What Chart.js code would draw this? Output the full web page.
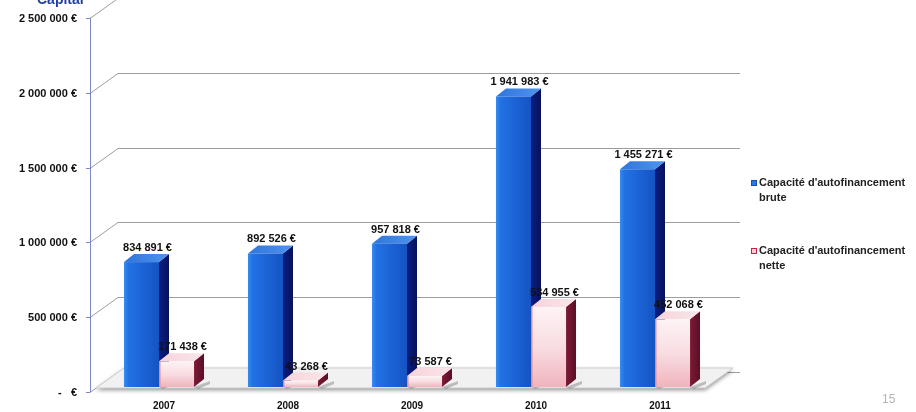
<!DOCTYPE html>
<html>
<head>
<meta charset="utf-8">
<script src="https://cdn.jsdelivr.net/npm/chart.js@4.4.0/dist/chart.umd.min.js"></script>
<style>
  html, body { margin: 0; padding: 0; background: #fff; overflow: hidden; }
  canvas { display: block; }
</style>
</head>
<body>
<canvas id="canvas" width="916" height="412"></canvas>
<script>
var years = ["2007", "2008", "2009", "2010", "2011"];
var cafBrute = [834891, 892526, 957818, 1941983, 1455271];
var cafNette = [171438, 43268, 73587, 534955, 452068];
var seriesNames = ["Capacité d'autofinancement brute", "Capacité d'autofinancement nette"];
var legendLines = [["Capacité d'autofinancement", "brute"], ["Capacité d'autofinancement", "nette"]];
var yTicks = [0, 500000, 1000000, 1500000, 2000000, 2500000];

var FONT = '"Liberation Sans", Arial, sans-serif';
var depthX = 10, depthY = 8;   // extrusion of each bar
var wallX = 28, wallY = 20;    // back wall offset of the gridlines
var lift = 5;                  // bars stand a little behind the axis

function fmtEuro(v) {
  if (v === 0) return "-   €";
  return String(Math.round(v)).replace(/\B(?=(\d{3})+(?!\d))/g, " ") + " €";
}

function poly(ctx, pts) {
  ctx.beginPath();
  ctx.moveTo(pts[0][0], pts[0][1]);
  for (var i = 1; i < pts.length; i++) ctx.lineTo(pts[i][0], pts[i][1]);
  ctx.closePath();
}

function drawBox(ctx, x0, x1, top, base, style) {
  // shadow on the floor
  ctx.fillStyle = "rgba(90,90,90,0.35)";
  poly(ctx, [[x1, base], [x1 + depthX + 6, base - depthY + 2], [x1 + depthX + 6, base - depthY + 5], [x1 + 4, base + 2]]);
  ctx.fill();

  // side
  var gs = ctx.createLinearGradient(x1, 0, x1 + depthX, 0);
  gs.addColorStop(0, style.side[0]);
  gs.addColorStop(1, style.side[1]);
  ctx.fillStyle = gs;
  poly(ctx, [[x1, top], [x1 + depthX, top - depthY], [x1 + depthX, base - depthY], [x1, base]]);
  ctx.fill();

  // top
  var gt = ctx.createLinearGradient(x0, 0, x1 + depthX, 0);
  gt.addColorStop(0, style.top[0]);
  gt.addColorStop(1, style.top[1]);
  ctx.fillStyle = gt;
  poly(ctx, [[x0, top], [x1, top], [x1 + depthX, top - depthY], [x0 + depthX, top - depthY]]);
  ctx.fill();

  // front
  var gf = style.vertical ? ctx.createLinearGradient(0, top, 0, base) : ctx.createLinearGradient(x0, 0, x1, 0);
  style.front.forEach(function (s) { gf.addColorStop(s[0], s[1]); });
  ctx.fillStyle = gf;
  ctx.fillRect(x0, top, x1 - x0, base - top);
  if (style.edge) {
    ctx.fillStyle = style.edge;
    ctx.fillRect(x0, top, 1.5, base - top);
  }
}

var styles = [
  {
    front: [[0, "#3b8cf0"], [0.12, "#2272e4"], [1, "#1553c4"]],
    side: ["#0b1d86", "#071258"],
    top: ["#2f74da", "#4f94ee"]
  },
  {
    vertical: true,
    front: [[0, "#fdf3f5"], [0.5, "#f8dde2"], [1, "#f1b3bd"]],
    side: ["#7d1a36", "#5a0f25"],
    top: ["#f6d3da", "#f9e6ea"],
    edge: "#e88793"
  }
];

var scene3d = {
  id: "scene3d",
  beforeDatasetsDraw: function (chart) {
    var ctx = chart.ctx, a = chart.chartArea, ys = chart.scales.y, xs = chart.scales.x;
    var ax = a.left - 7;
    ctx.save();
    // gridlines folded onto the back wall, tick marks and tick labels
    ctx.lineWidth = 1;
    ctx.font = "bold 11px " + FONT;
    ctx.textAlign = "right";
    ctx.textBaseline = "middle";
    yTicks.forEach(function (v) {
      var py = Math.round(ys.getPixelForValue(v)) + 0.5;
      ctx.strokeStyle = "#9d9d9d";
      ctx.beginPath();
      ctx.moveTo(ax, py);
      ctx.lineTo(ax + wallX, py - wallY);
      ctx.lineTo(a.right + 23, py - wallY);
      ctx.stroke();
      ctx.strokeStyle = "#7e88c6";
      ctx.beginPath();
      ctx.moveTo(ax - 4, py);
      ctx.lineTo(ax, py);
      ctx.stroke();
      ctx.fillStyle = "#111";
      ctx.fillText(fmtEuro(v), ax - 13, py);
    });
    // category labels, centred under each extruded pair
    ctx.font = "bold 10px " + FONT;
    ctx.textAlign = "center";
    years.forEach(function (y, i) {
      ctx.fillText(y, xs.getPixelForValue(i) + depthX / 2, a.bottom + 14);
    });
    // value axis
    ctx.strokeStyle = "#7e88c6";
    ctx.beginPath();
    ctx.moveTo(ax + 0.5, ys.getPixelForValue(2500000));
    ctx.lineTo(ax + 0.5, ys.getPixelForValue(0));
    ctx.stroke();
    // floor
    var fy = ys.getPixelForValue(0) - 4;
    ctx.shadowColor = "rgba(0,0,0,0.45)";
    ctx.shadowBlur = 4;
    ctx.shadowOffsetY = 2;
    ctx.fillStyle = "#f1f1f1";
    poly(ctx, [[ax + 6, fy], [a.right - 12, fy], [a.right + 16, fy - wallY], [ax + 6 + wallX, fy - wallY]]);
    ctx.fill();
    ctx.shadowColor = "transparent";
    ctx.strokeStyle = "#cfcfcf";
    ctx.stroke();
    ctx.restore();
  },
  afterDatasetsDraw: function (chart) {
    var ctx = chart.ctx;
    ctx.save();
    var metas = [chart.getDatasetMeta(0), chart.getDatasetMeta(1)];
    for (var i = 0; i < years.length; i++) {
      metas.forEach(function (m, d) {
        var el = m.data[i];
        var p = el.getProps(["x", "y", "base", "width"], true);
        var x0 = p.x - p.width / 2, x1 = p.x + p.width / 2;
        drawBox(ctx, x0, x1, p.y - lift, p.base - lift, styles[d]);
      });
    }
    // value labels
    ctx.fillStyle = "#111";
    ctx.font = "bold 11px " + FONT;
    ctx.textAlign = "center";
    ctx.textBaseline = "alphabetic";
    metas.forEach(function (m, d) {
      var values = d === 0 ? cafBrute : cafNette;
      m.data.forEach(function (el, i) {
        var p = el.getProps(["x", "y"], true);
        ctx.fillText(fmtEuro(values[i]), p.x + depthX / 2 + 1, p.y - lift - depthY - 3);
      });
    });
    ctx.restore();
  },
  afterDraw: function (chart) {
    var ctx = chart.ctx;
    ctx.save();
    // legend
    var colors = [["#2a78e4", "#1a4fb0"], ["#f6d0d6", "#c2283f"]];
    var rows = [183, 251];
    ctx.font = "bold 11px " + FONT;
    ctx.textBaseline = "middle";
    ctx.textAlign = "left";
    legendLines.forEach(function (lines, k) {
      var yy = rows[k];
      ctx.fillStyle = colors[k][0];
      ctx.fillRect(751, yy - 3, 6, 6);
      ctx.strokeStyle = colors[k][1];
      ctx.lineWidth = 1;
      ctx.strokeRect(751.5, yy - 2.5, 5, 5);
      ctx.fillStyle = "#222";
      lines.forEach(function (t, j) {
        ctx.fillText(t, 759, yy + j * 15);
      });
    });
    // heading cut by the top edge
    ctx.fillStyle = "#213f9c";
    ctx.font = "bold 14px " + FONT;
    ctx.textBaseline = "alphabetic";
    ctx.fillText("Capital", 37, 4);
    // page number
    ctx.fillStyle = "#b5b5b5";
    ctx.font = "12px " + FONT;
    ctx.fillText("15", 882, 403);
    ctx.restore();
  }
};

var ctx = document.getElementById("canvas").getContext("2d");
window.cafChart = new Chart(ctx, {
  type: "bar",
  data: {
    labels: years,
    datasets: [
      { label: seriesNames[0], data: cafBrute, backgroundColor: "rgba(0,0,0,0)" },
      { label: seriesNames[1], data: cafNette, backgroundColor: "rgba(0,0,0,0)" }
    ]
  },
  options: {
    responsive: false,
    animation: false,
    layout: { padding: { top: 18, right: 199, left: 0, bottom: 0 } },
    datasets: { bar: { categoryPercentage: 0.565, barPercentage: 1 } },
    plugins: { legend: { display: false }, tooltip: { enabled: false } },
    scales: {
      x: {
        grid: { display: false, drawTicks: false },
        border: { display: false },
        ticks: { display: false },
        afterFit: function (s) { s.height = 20; }
      },
      y: {
        min: 0,
        max: 2500000,
        grid: { display: false, drawTicks: false },
        border: { display: false },
        ticks: { display: false, stepSize: 500000 },
        afterFit: function (s) { s.width = 97; }
      }
    }
  },
  plugins: [scene3d]
});
</script>
</body>
</html>
